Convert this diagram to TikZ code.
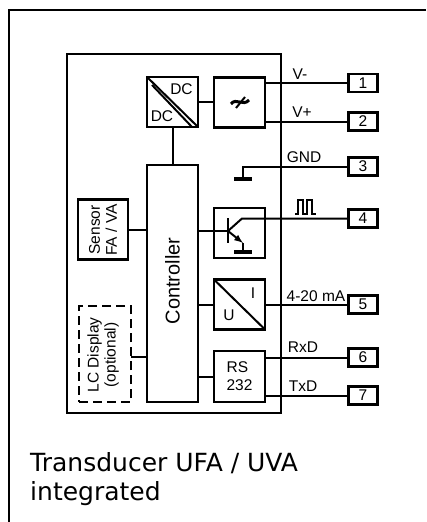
\documentclass[tikz,border=0pt]{standalone}
\usepackage{xcolor}
\usepackage{fontspec}
\setmainfont{Liberation Sans}
\newfontfamily\captionfont{DejaVu Sans}
\usetikzlibrary{shapes,arrows,positioning,calc}
\tikzset{
    block/.style={draw, line width=2.6pt, inner sep=0pt, outer sep=0pt, font=\fontsize{15.5}{18}\selectfont, align=center},
    pin/.style={block, minimum width=29pt, minimum height=18pt},
    wire/.style={line width=2pt},
    sig/.style={inner sep=0pt, font=\fontsize{15.5}{17}\selectfont},
}

\begin{document}
\begin{tikzpicture}[x=1pt,y=-1pt]
        \useasboundingbox (0,0) rectangle (426,522);

        % Outer border
        \draw[line width=2pt] (426,10) -- (9,10) -- (9,522);

        % Housing
        \node[block, minimum width=214pt, minimum height=359pt] (housing) at (174,233.5) {};

        % Blocks
        \node[block, minimum width=51pt, minimum height=50pt] (dcdc) at (172.5,102) {};
        \node[block, minimum width=51pt, minimum height=50pt] (filter) at (239.5,102.5) {};
        \node[block, minimum width=51pt, minimum height=237pt] (controller) at (172.5,283.5) {};
        \node[sig, rotate=90, font=\fontsize{20}{22}\selectfont] (controllertext) at (172.5,281) {Controller};
        \node[block, minimum width=50pt, minimum height=60pt] (sensor) at (103,229.5) {};
        \node[sig, rotate=90, align=center] (sensortext) at (103,230) {Sensor\\FA / VA};
        \node[block, minimum width=51pt, minimum height=50pt] (trans) at (239.5,233) {};
        \node[block, minimum width=51pt, minimum height=50pt] (conv) at (239.5,304.5) {};
        \node[block, minimum width=51pt, minimum height=51pt, align=left] (rs) at (239.5,376.5) {RS\\232};
        \node[block, minimum width=52pt, minimum height=96pt, dash pattern=on 9pt off 5pt] (lcd) at (105,354) {};
        \node[sig, rotate=90, align=center] (lcdtext) at (103,355) {LC Display\\(optional)};

        % Pins
        \node[pin] (pin1) at (363,83) {1};
        \node[pin] (pin2) at (363,121.5) {2};
        \node[pin] (pin3) at (363,166.5) {3};
        \node[pin] (pin4) at (363,218.5) {4};
        \node[pin] (pin5) at (363,304.5) {5};
        \node[pin] (pin6) at (363,357.5) {6};
        \node[pin] (pin7) at (363,395.5) {7};

        % DC/DC
        \draw[wire] (dcdc.north west) -- (dcdc.south east);
        \draw[wire] (152,85) -- (192,127);
        \node[sig] (dctop) at (181.5,89) {DC};
        \node[sig] (dcbottom) at (162,116) {DC};

        % Filter symbol
        \draw[line width=3pt] (231,104) .. controls (236,97) and (243,107) .. (249,100);
        \draw[line width=2pt] (236,108) -- (245,97);

        % Converter
        \draw[wire] (conv.north west) -- (conv.south east);
        \node[sig] (convi) at (253,293) {I};
        \node[sig] (convu) at (229,315) {U};

        % Wires
        \draw[wire] (dcdc.east) -- (dcdc.east -| filter.west);
        \draw[wire] (dcdc.south) -- (controller.north);
        \draw[wire] (sensor.east) -- (sensor.east -| controller.west);
        \draw[wire] (conv.west) -- (conv.west -| controller.east);
        \draw[wire] (rs.west) -- (rs.west -| controller.east);
        \coordinate (lcdtap) at (131,357);
        \draw[wire] (lcdtap) -- (lcdtap -| controller.west);
        \draw[wire] (pin1.west) -- (pin1.west -| filter.east);
        \draw[wire] (pin2.west) -- (pin2.west -| filter.east);
        \draw[wire] (pin5.west) -- (conv.east);
        \draw[wire] (pin6.west) -- (pin6.west -| rs.east);
        \draw[wire] (pin7.west) -- (pin7.west -| rs.east);

        % Ground
        \coordinate (gnd) at (243,179);
        \draw[wire] (pin3.west) -- (pin3.west -| gnd) -- (gnd);
        \draw[line width=3.2pt] ($(gnd)+(-9,0)$) -- ($(gnd)+(9,0)$);

        % Transistor
        \coordinate (base) at (228,231);
        \coordinate (emitter) at (243,252);
        \draw[wire] (base -| controller.east) -- (base);
        \draw[line width=2.6pt] (228,218) -- (228,243);
        \draw[wire] (pin4.west) -- (242,218.5) -- (base);
        \draw[wire, -latex] (base) -- (243,243);
        \draw[wire] (243,243) -- (emitter);
        \draw[line width=3.2pt] ($(emitter)+(-9,0)$) -- ($(emitter)+(9,0)$);

        % Signal names
        \node[sig] (vminus) at (300,74) {V-};
        \node[sig] (vplus) at (302,112) {V+};
        \node[sig] (gndtext) at (304,157) {GND};
        \draw[line width=1.5pt] (295,214) -- (298,214) -- (298,200) -- (303,200) -- (303,214) -- (307,214) -- (307,200) -- (312,200) -- (312,214) -- (316,214);
        \node[sig] (ma) at (316,296) {4-20 mA};
        \node[sig] (rxd) at (303,347) {RxD};
        \node[sig] (txd) at (303,386) {TxD};

        % Caption
        \node[inner sep=0pt, anchor=west, align=left, font=\captionfont\fontsize{25}{29}\selectfont] (caption) at (30,479) {Transducer UFA / UVA\\integrated};
\end{tikzpicture}
\end{document}
